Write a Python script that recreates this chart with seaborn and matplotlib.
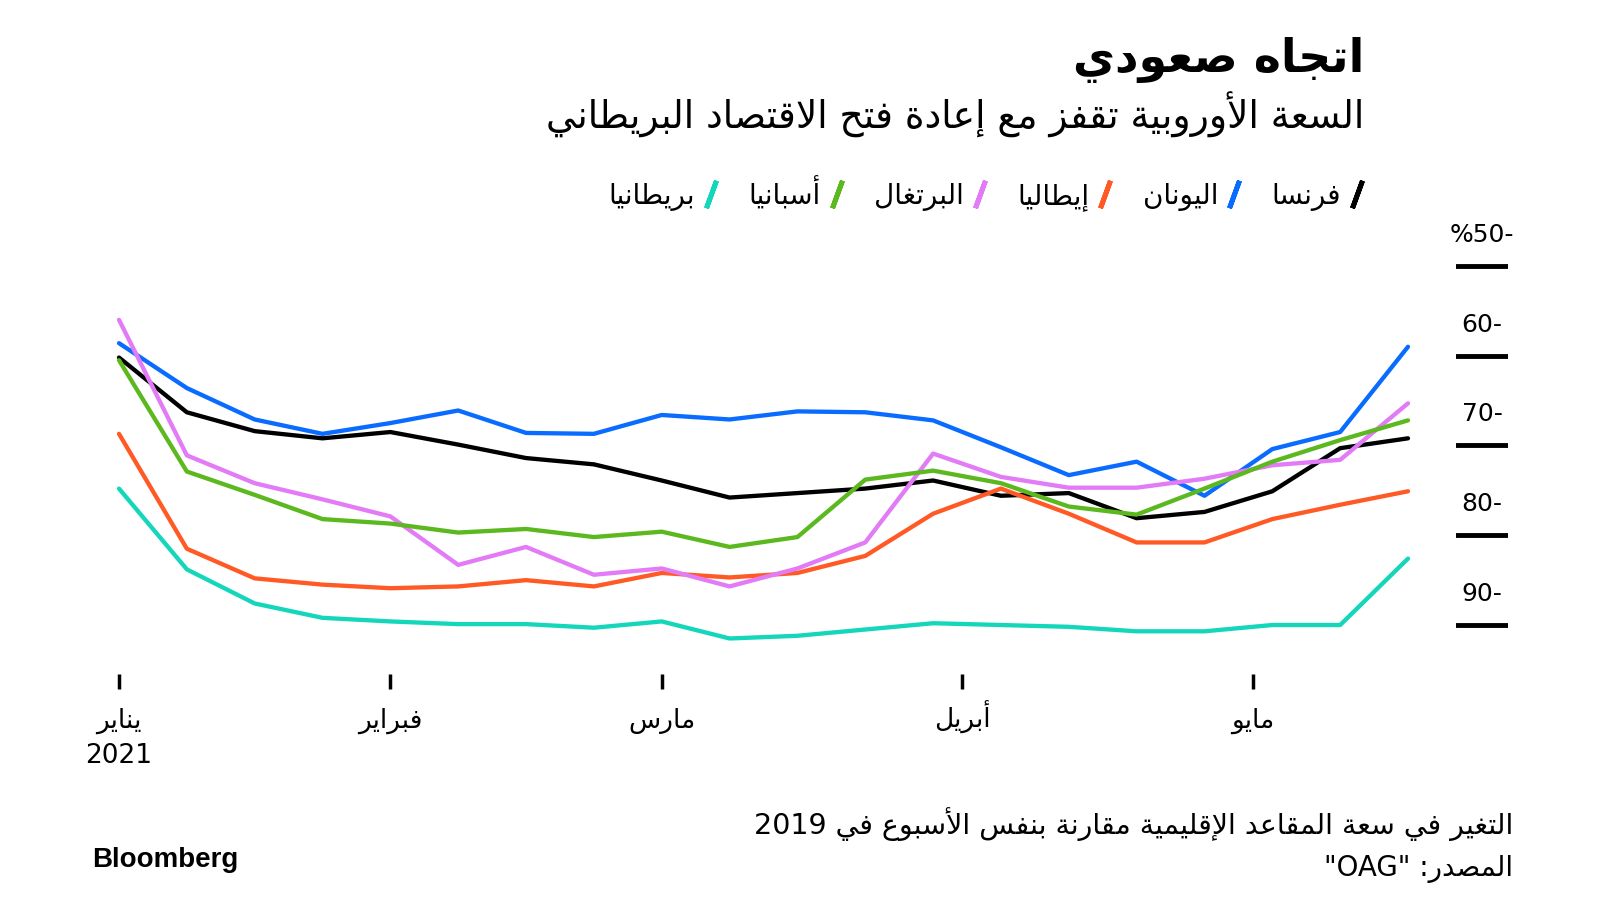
import pandas as pd
import seaborn as sns
import matplotlib.pyplot as plt
import matplotlib.dates as mdates
from matplotlib.lines import Line2D
from matplotlib.markers import MarkerStyle
from matplotlib.transforms import ScaledTranslation

# Weekly readings, Mondays from 4 Jan 2021 (change vs same week in 2019, %)
dates = pd.date_range('2021-01-04', periods=20, freq='W-MON')

france = [-60.2, -66.3, -68.4, -69.2, -68.5, -69.9, -71.4, -72.1, -73.9, -75.8,
          -75.3, -74.8, -73.9, -75.6, -75.3, -78.1, -77.4, -75.1, -70.3, -69.2]
greece = [-58.6, -63.6, -67.1, -68.7, -67.5, -66.1, -68.6, -68.7, -66.6, -67.1,
          -66.2, -66.3, -67.2, -70.2, -73.3, -71.8, -75.6, -70.4, -68.5, -59.0]
italy = [-68.7, -81.5, -84.8, -85.5, -85.9, -85.7, -85.0, -85.7, -84.2, -84.7,
         -84.2, -82.3, -77.6, -74.8, -77.6, -80.8, -80.8, -78.2, -76.6, -75.1]
portugal = [-56.0, -71.1, -74.2, -76.0, -77.9, -83.3, -81.3, -84.4, -83.7, -85.7,
            -83.7, -80.8, -70.9, -73.5, -74.7, -74.7, -73.7, -72.2, -71.6, -65.3]
spain = [-60.5, -72.9, -75.5, -78.2, -78.7, -79.7, -79.3, -80.2, -79.6, -81.3,
         -80.2, -73.8, -72.8, -74.2, -76.8, -77.7, -74.8, -71.8, -69.4, -67.2]
uk = [-74.8, -83.8, -87.6, -89.2, -89.6, -89.9, -89.9, -90.3, -89.6, -91.5,
      -91.2, -90.5, -89.8, -90.0, -90.2, -90.7, -90.7, -90.0, -90.0, -82.6]

countries = ['فرنسا', 'اليونان', 'إيطاليا', 'البرتغال', 'أسبانيا', 'بريطانيا']
colors = ['#000000', '#0a6cff', '#ff5a26', '#e27bf5', '#5bb81e', '#14d6bb']

month_ticks = pd.to_datetime(['2021-01-04', '2021-02-01', '2021-03-01', '2021-04-01', '2021-05-01'])
month_labels = ['يناير', 'فبراير', 'مارس', 'أبريل', 'مايو']
year_label = '2021'
y_ticks = [-90, -80, -70, -60, -50]
y_labels = ['90-', '80-', '70-', '60-', '%50-']

title = 'اتجاه صعودي'
subtitle = 'السعة الأوروبية تقفز مع إعادة فتح الاقتصاد البريطاني'
note = 'التغير في سعة المقاعد الإقليمية مقارنة بنفس الأسبوع في 2019'
source = 'المصدر: "OAG"'

# matplotlib has no Arabic shaping, so pick presentation forms by hand
FOUR = {'ب': 0xFE8F, 'ت': 0xFE95, 'ث': 0xFE99, 'ج': 0xFE9D, 'ح': 0xFEA1, 'خ': 0xFEA5,
        'س': 0xFEB1, 'ش': 0xFEB5, 'ص': 0xFEB9, 'ض': 0xFEBD, 'ط': 0xFEC1, 'ظ': 0xFEC5,
        'ع': 0xFEC9, 'غ': 0xFECD, 'ف': 0xFED1, 'ق': 0xFED5, 'ك': 0xFED9, 'ل': 0xFEDD,
        'م': 0xFEE1, 'ن': 0xFEE5, 'ه': 0xFEE9, 'ي': 0xFEF1, 'ئ': 0xFE89}
TWO = {'آ': 0xFE81, 'أ': 0xFE83, 'ؤ': 0xFE85, 'إ': 0xFE87, 'ا': 0xFE8D, 'ة': 0xFE93,
       'د': 0xFEA9, 'ذ': 0xFEAB, 'ر': 0xFEAD, 'ز': 0xFEAF, 'و': 0xFEED, 'ى': 0xFEEF}
LAM_ALEF = {'ا': 0xFEFB, 'أ': 0xFEF7, 'إ': 0xFEF9, 'آ': 0xFEF5}


def shape_word(word):
    out = []
    prev_joins = False
    i = 0
    while i < len(word):
        c = word[i]
        nxt = word[i + 1] if i + 1 < len(word) else ''
        if c == 'ل' and nxt in LAM_ALEF:
            out.append(chr(LAM_ALEF[nxt] + (1 if prev_joins else 0)))
            prev_joins = False
            i += 2
            continue
        if c in FOUR or c in TWO:
            base = FOUR.get(c, TWO.get(c))
            joins_next = c in FOUR and (nxt in FOUR or nxt in TWO)
            if prev_joins and joins_next:
                form = 3
            elif prev_joins:
                form = 1
            elif joins_next:
                form = 2
            else:
                form = 0
            out.append(chr(base + form))
            prev_joins = c in FOUR
        else:
            out.append(c)
            prev_joins = False
        i += 1
    return out


def ar(text):
    lines = []
    for line in text.split('\n'):
        tokens = []
        for tok in line.split(' '):
            if any(ch in FOUR or ch in TWO for ch in tok):
                tokens.append(''.join(reversed(shape_word(tok))))
            else:
                tokens.append(tok)
        lines.append(' '.join(reversed(tokens)))
    return '\n'.join(lines)


def main():
    sns.set_theme(style='white')
    plt.rcParams['font.family'] = ['DejaVu Sans']
    plt.rcParams['text.color'] = 'black'
    plt.rcParams['xtick.color'] = 'black'
    plt.rcParams['ytick.color'] = 'black'

    df = pd.DataFrame({
        'date': list(dates) * 6,
        'value': france + greece + italy + portugal + spain + uk,
        'country': [c for c in countries for _ in dates],
    })

    fig = plt.figure(figsize=(16, 9), dpi=100, facecolor='white')
    W, H = 1600, 900
    top_px, bot_px = 221.1, 669.9
    ax = fig.add_axes([119 / W, (H - bot_px) / H, (1408 - 119) / W, (bot_px - top_px) / H])

    sns.lineplot(data=df, x='date', y='value', hue='country', hue_order=countries,
                 palette=dict(zip(countries, colors)), linewidth=3.1, legend=False, ax=ax)
    for line in ax.lines:
        line.set_clip_on(False)

    ax.set_ylim(-95, -45)
    ax.set_xlim(dates[0], dates[-1])
    for s in ax.spines.values():
        s.set_visible(False)
    ax.spines['bottom'].set_position(('outward', 3))
    ax.set_xlabel('')
    ax.set_ylabel('')
    ax.set_yticks([])
    ax.set_xticks(month_ticks)
    ax.set_xticklabels([ar(m) for m in month_labels], fontsize=19)
    ax.tick_params(axis='x', direction='out', length=11, width=2.5, color='black', pad=27.5, bottom=True)
    for lab in ax.get_xticklabels():
        lab.set_verticalalignment('baseline')
    ax.annotate(year_label, xy=(mdates.date2num(month_ticks[0]), 0), xycoords=ax.get_xaxis_transform(),
                xytext=(0, -67), textcoords='offset points', ha='center', va='baseline', fontsize=19)

    # right-hand value scale: short black rules with labels above them
    ax2 = fig.add_axes([1456 / W, (H - bot_px) / H, 52 / W, (bot_px - top_px) / H])
    ax2.set_ylim(-95, -45)
    ax2.set_yticks(y_ticks)
    ax2.set_xticks([])
    ax2.tick_params(axis='y', length=0, labelleft=False)
    ax2.grid(axis='y', color='black', linewidth=3.5)
    for s in ax2.spines.values():
        s.set_visible(False)
    ax2.patch.set_alpha(0)
    off = ScaledTranslation(0, 0.31, fig.dpi_scale_trans)
    for v, lab in zip(y_ticks, y_labels):
        ax2.text(0.5, v, lab, transform=ax2.get_yaxis_transform() + off,
                 ha='center', va='center', fontsize=18)

    # legend: coloured slash to the right of each name
    handles = [Line2D([], [], color=c, linestyle='none',
                      marker=MarkerStyle((2, 2, -20), capstyle='round'),
                      markersize=21, markeredgewidth=3.5, markeredgecolor=c)
               for c in colors]
    fig.legend(handles[::-1], [ar(c) for c in countries][::-1], ncol=6, markerfirst=False,
               loc='center right', bbox_to_anchor=(1364 / W, 1 - 194 / H), frameon=False,
               fontsize=20, handlelength=0.5, handletextpad=0.32, columnspacing=1.1,
               borderpad=0, borderaxespad=0)

    fig.text(1364 / W, 1 - 60 / H, ar(title), ha='right', va='center', fontsize=33, fontweight='bold')
    fig.text(1364 / W, 1 - 115 / H, ar(subtitle), ha='right', va='center', fontsize=27)
    fig.text(1513 / W, 1 - 824 / H, ar(note), ha='right', va='center', fontsize=20.5)
    fig.text(1513 / W, 1 - 869 / H, ar(source), ha='right', va='center', fontsize=20)
    fig.text(92 / W, 1 - 860 / H, 'Bloomberg', ha='left', va='center', fontsize=20,
             fontweight='bold', family='Liberation Sans')

    fig.savefig('out.png', dpi=100, facecolor='white')
    plt.close(fig)


if __name__ == '__main__':
    main()
